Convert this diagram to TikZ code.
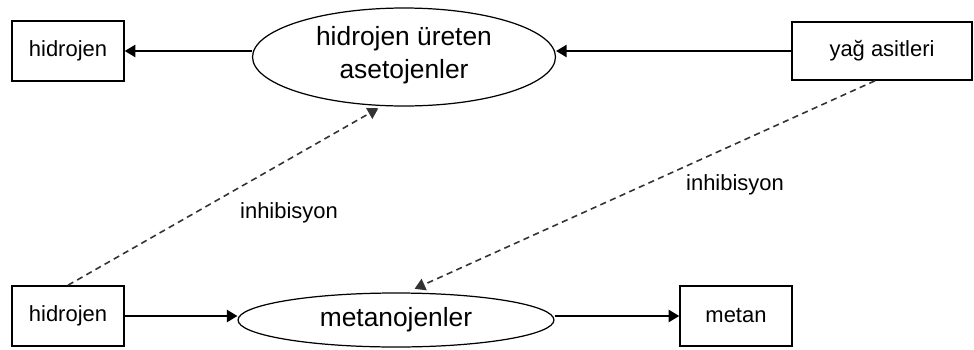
\documentclass[tikz,border=0pt]{standalone}
\usepackage{fontspec}
\setmainfont{Liberation Sans}
\usetikzlibrary{shapes.geometric,arrows.meta}

\begin{document}
\begin{tikzpicture}[x=0.02cm,y=-0.02cm,
    kutu/.style={draw,line width=0.9pt,minimum width=2.24cm,minimum height=1.2cm,
      inner sep=0pt,font=\fontsize{12.5}{15}\selectfont},
    hucre/.style={draw,ellipse,line width=0.7pt,inner sep=0pt,align=center,
      font=\fontsize{15}{18.8}\selectfont},
    ok/.style={-{Triangle[length=6pt,width=7pt]},line width=0.8pt},
    kesik/.style={ok,line width=0.9pt,draw=black!80,dash pattern=on 3.5pt off 2.5pt},
    etiket/.style={font=\fontsize{12.5}{15}\selectfont}]
  \useasboundingbox (0,0) rectangle (974,349);

  \node[kutu] (hidust) at (68,51) {hidrojen};
  \node[hucre,minimum width=6.06cm,minimum height=1.96cm,text depth=0.9ex] (aseto) at (404,57)
    {hidrojen üreten\\asetojenler};
  \node[kutu,minimum width=3.6cm,minimum height=1.16cm] (yag) at (882,51) {yağ asitleri};

  \node[kutu] (hidalt) at (68,316) {hidrojen};
  \node[hucre,minimum width=6.32cm,minimum height=1.08cm] (metano) at (396,320) {metanojenler};
  \node[kutu] (metan) at (736,316) {metan};

  \node[etiket] (inh1) at (289,213) {inhibisyon};
  \node[etiket] (inh2) at (735,185) {inhibisyon};

  \draw[ok] (aseto.west |- hidust.east) -- (hidust.east);
  \draw[ok] (yag.west) -- (aseto.east |- yag.west);
  \draw[ok] (hidalt.east) -- (metano.west |- hidalt.east);
  \draw[ok] (metano.east |- metan.west) -- (metan.west);

  \draw[kesik,shorten >=2.5pt] (hidalt.north) -- (aseto.246);
  \draw[kesik,shorten >=5pt] ([xshift=-4pt]yag.south) -- (metano.69);
\end{tikzpicture}
\end{document}
